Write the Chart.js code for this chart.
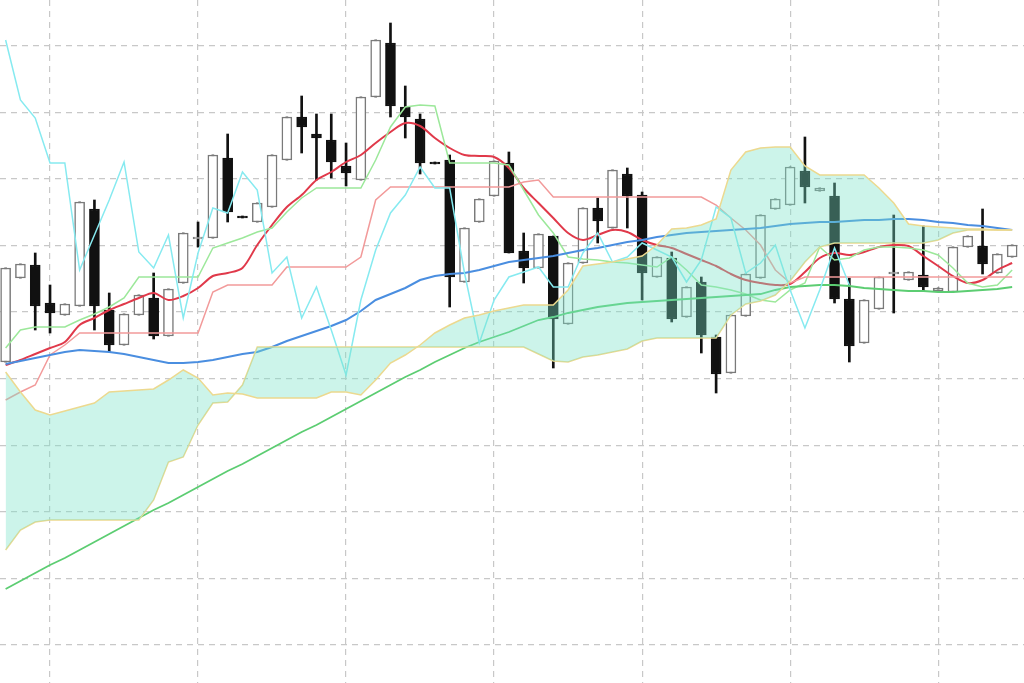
<!DOCTYPE html>
<html>
<head>
<meta charset="utf-8">
<script src="https://cdn.jsdelivr.net/npm/chart.js@4/dist/chart.umd.min.js"></script>
<style>
  html, body { margin: 0; padding: 0; background: #fff; }
  #wrap { width: 1024px; height: 683px; }
</style>
</head>
<body>
<div id="wrap"><canvas id="ichimoku"></canvas></div>
<script>
// OHLC per bar (price units)
const opens  = [321,405,418,380,368,377,474,373,338,368,385,347,400,444,445,525,467,461,476,523,566,549,543,517,503,586,640,576,564,521,523,401,461,487,520,432,415,447,359,420,475,455,509,488,406,425,366,401,346,310,367,405,474,478,512,492,487,384,340,374,409,403,408,392,391,436,437,410,426];
const closes = [415,419,377,370,379,481,377,338,369,388,347,394,450,446,528,471,465,480,528,566,556,545,521,510,586,643,577,566,520,519,406,455,484,522,430,415,449,364,420,475,462,513,487,410,426,364,396,348,309,368,409,468,484,516,496,495,384,337,383,406,411,411,396,395,436,447,419,429,438];
const highs  = [415,419,430,398,379,481,483,390,369,388,410,394,450,461,528,549,467,480,528,566,587,569,569,540,586,643,660,597,569,521,528,455,484,522,531,450,449,447,420,475,485,513,515,491,426,431,396,406,348,368,409,468,484,516,546,495,500,405,383,406,468,411,457,395,436,447,474,429,438];
const lows   = [321,405,353,350,368,377,353,331,338,368,344,347,400,436,445,461,465,461,476,523,530,503,505,497,503,586,566,545,509,519,376,401,461,487,430,400,415,315,359,420,440,455,455,383,406,361,366,330,290,310,367,405,474,478,480,492,380,321,340,374,370,403,392,392,391,436,409,410,426];

// indicator lines
const chikou = [643,583,565,520,520,413,448,483,521,431,415,448,365,430,475,470,511,493,410,426,365,396,353,308,383,433,470,488,516,495,495,410,340,383,406,411,416,396,396,430,450,421,426,440,433,426,401,423,476,465,410,420,438,393,355,393,435,398];
const maShort = [318,323,329,335,341,358,365,373,379,385,390,383,387,395,407,410,415,438,458,476,488,503,511,521,528,540,551,560,557,545,535,528,527,526,515,495,480,465,450,443,448,453,451,443,438,435,429,423,417,409,403,400,398,399,411,425,430,428,431,436,438,437,427,417,407,400,403,413,420];
const tenkan = [335,353,356,356,356,363,369,376,385,406,406,406,406,406,435,440,445,451,455,471,485,495,495,495,495,523,556,576,578,577,520,520,520,520,518,493,468,450,426,424,423,421,420,418,416,426,413,398,396,393,389,383,381,393,400,436,423,425,433,436,436,435,433,428,415,400,396,398,413];
const kijun = [283,291,298,328,338,350,350,350,350,350,350,350,350,350,391,398,398,398,398,416,416,416,416,416,426,483,496,496,496,496,496,496,496,496,496,501,503,486,486,486,486,486,486,486,486,486,486,486,478,465,453,438,413,400,406,406,406,406,406,406,406,406,406,406,406,406,406,406,406];
const maMid = [319,322,325,328,331,333,332,331,329,326,323,320,320,321,323,326,329,331,336,342,347,352,357,363,372,383,389,395,403,407,409,410,413,417,421,423,425,427,430,433,435,438,441,443,446,448,450,451,452,453,454,455,457,459,460,461,461,462,463,463,464,464,463,461,460,458,457,455,453];
const maLong = [94,102,110,118,125,133,141,149,157,165,173,180,188,196,204,212,219,227,235,243,251,258,266,274,282,290,298,306,313,321,328,335,341,346,351,357,363,366,370,373,376,378,380,381,382,383,384,385,386,387,388,389,393,396,397,398,398,397,395,394,393,392,392,391,391,392,393,394,396];
const spanA = [311,291,273,268,272,276,280,291,292,293,294,303,313,305,288,290,289,285,285,285,285,285,291,291,288,303,320,328,338,350,358,365,368,372,375,378,378,378,393,417,419,421,424,427,438,454,455,458,464,513,531,535,536,536,517,508,508,508,508,495,480,459,457,456,455,454,454,453,453];
const spanB = [133,153,161,163,163,163,163,163,163,163,183,221,226,258,280,281,298,336,336,336,336,336,336,336,336,336,336,336,336,336,336,336,336,336,336,336,329,322,321,326,328,331,334,342,345,345,345,345,345,368,379,382,388,402,421,436,440,440,440,440,440,440,440,443,450,453,453,453,453];

const xTicks = [3, 13, 23, 33, 43, 53, 63];
const yTicks = [38, 104.6, 171.2, 237.8, 304.4, 371, 437.6, 504.2, 570.8, 637.4];

const pts = arr => arr.map((v, i) => ({ x: i, y: v }));
const up = opens.map((o, i) => closes[i] >= o);

const line = (data, color, order, extra) => Object.assign({
    type: 'line',
    data: pts(data),
    borderColor: color,
    borderWidth: 1.5,
    pointRadius: 0,
    tension: 0,
    fill: false,
    order: order
}, extra || {});

const ctx = document.getElementById('ichimoku').getContext('2d');

new Chart(ctx, {
    data: {
        datasets: [
            line(spanA, '#ecd98f', 1, { fill: '+1', backgroundColor: 'rgba(120, 225, 200, 0.38)' }),
            line(spanB, '#ecd98f', 2),
            line(chikou, '#86eaf0', 3),
            line(maLong, '#5ccd72', 3, { borderWidth: 1.8 }),
            line(maMid, '#4a8ee0', 3, { borderWidth: 2 }),
            line(kijun, '#f29a9a', 3),
            line(tenkan, '#9ce89a', 3),
            line(maShort, '#e0394a', 3, { tension: 0.3, borderWidth: 2 }),
            {
                type: 'bar',
                data: opens.map((o, i) => ({ x: i, y: [Math.min(o, closes[i]) - (Math.abs(o - closes[i]) < 2 ? 1 : 0), Math.max(o, closes[i]) + (Math.abs(o - closes[i]) < 2 ? 1 : 0)] })),
                backgroundColor: up.map(u => u ? '#ffffff' : '#111111'),
                borderColor: up.map(u => u ? '#7a7a7a' : '#111111'),
                borderWidth: 1.5,
                borderSkipped: false,
                barThickness: 10,
                grouped: false,
                order: 4
            },
            {
                type: 'bar',
                data: lows.map((l, i) => ({ x: i, y: [l, highs[i]] })),
                backgroundColor: '#111111',
                barThickness: 2,
                grouped: false,
                order: 5
            }
        ]
    },
    options: {
        responsive: true,
        maintainAspectRatio: false,
        animation: false,
        layout: { padding: 0 },
        plugins: { legend: { display: false }, tooltip: { enabled: false } },
        scales: {
            x: {
                type: 'linear',
                min: -0.38,
                max: 68.8,
                offset: false,
                bounds: 'data',
                afterBuildTicks: s => { s.ticks = xTicks.map(v => ({ value: v })); },
                afterFit: s => { s.height = 0; s.paddingLeft = 0; s.paddingRight = 0; },
                ticks: { display: false, padding: 0 },
                grid: { color: '#c8c8c8', lineWidth: 1.2, offset: false, drawTicks: false },
                border: { display: false, dash: [6, 5] }
            },
            y: {
                min: 0,
                max: 683,
                afterBuildTicks: s => { s.ticks = yTicks.map(v => ({ value: v })); },
                afterFit: s => { s.width = 0; s.paddingTop = 0; s.paddingBottom = 0; },
                ticks: { display: false, padding: 0 },
                grid: { color: '#c8c8c8', lineWidth: 1.2, drawTicks: false },
                border: { display: false, dash: [6, 5] }
            }
        }
    }
});
</script>
</body>
</html>
